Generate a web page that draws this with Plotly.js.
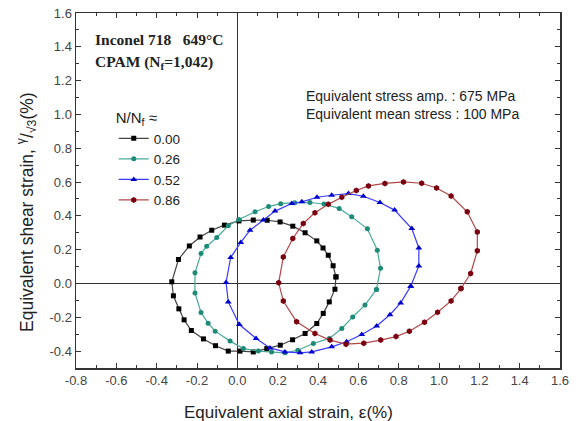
<!DOCTYPE html>
<html>
<head>
<meta charset="utf-8">
<script src="https://cdn.plot.ly/plotly-3.0.1.min.js"></script>
<style>
  html, body { margin: 0; padding: 0; background: #fff; }
  #chart { width: 579px; height: 421px; }
</style>
</head>
<body>
<div id="chart"></div>
<script>
// Hysteresis loops: equivalent axial strain (%) vs equivalent shear strain (%)
const labels = ['0.00', '0.26', '0.52', '0.86'];

const axial000 = [0.489, 0.475, 0.451, 0.425, 0.394, 0.336, 0.275, 0.212, 0.148, 0.079, 0.008, -0.064, -0.127, -0.185, -0.238, -0.292, -0.325, -0.317, -0.290, -0.264, -0.228, -0.168, -0.108, -0.045, 0.013, 0.079, 0.146, 0.213, 0.274, 0.336, 0.394, 0.426, 0.456, 0.484, 0.489];
const shear000 = [0.039, 0.105, 0.167, 0.210, 0.252, 0.300, 0.339, 0.364, 0.374, 0.375, 0.370, 0.345, 0.315, 0.275, 0.222, 0.142, 0.010, -0.073, -0.150, -0.215, -0.278, -0.328, -0.368, -0.400, -0.400, -0.405, -0.385, -0.365, -0.333, -0.296, -0.237, -0.177, -0.109, -0.034, 0.039];

const axial026 = [0.690, 0.710, 0.694, 0.645, 0.567, 0.505, 0.430, 0.360, 0.285, 0.215, 0.155, 0.088, 0.008, -0.045, -0.102, -0.152, -0.180, -0.210, -0.210, -0.180, -0.145, -0.110, -0.036, 0.030, 0.104, 0.170, 0.236, 0.300, 0.377, 0.456, 0.518, 0.572, 0.633, 0.690];
const shear026 = [-0.035, 0.090, 0.197, 0.323, 0.394, 0.444, 0.470, 0.479, 0.478, 0.472, 0.455, 0.424, 0.378, 0.341, 0.272, 0.220, 0.177, 0.063, -0.056, -0.172, -0.235, -0.282, -0.341, -0.385, -0.400, -0.405, -0.410, -0.395, -0.355, -0.325, -0.266, -0.198, -0.128, -0.035];

const axial052 = [0.860, 0.900, 0.900, 0.865, 0.780, 0.707, 0.625, 0.551, 0.468, 0.395, 0.320, 0.270, 0.187, 0.129, 0.063, 0.017, -0.033, -0.056, -0.045, 0.010, 0.093, 0.162, 0.236, 0.311, 0.369, 0.468, 0.542, 0.617, 0.691, 0.757, 0.810, 0.860];
const shear052 = [-0.016, 0.104, 0.210, 0.325, 0.434, 0.479, 0.516, 0.532, 0.522, 0.510, 0.483, 0.473, 0.428, 0.375, 0.315, 0.243, 0.154, 0.006, -0.109, -0.243, -0.325, -0.381, -0.405, -0.410, -0.405, -0.375, -0.345, -0.302, -0.251, -0.185, -0.115, -0.016];

const axial086 = [1.109, 1.157, 1.190, 1.190, 1.140, 1.060, 0.988, 0.914, 0.824, 0.732, 0.650, 0.590, 0.518, 0.451, 0.385, 0.327, 0.275, 0.228, 0.205, 0.228, 0.294, 0.385, 0.460, 0.539, 0.627, 0.711, 0.787, 0.853, 0.928, 0.993, 1.060, 1.109];
const shear086 = [-0.030, 0.059, 0.193, 0.305, 0.424, 0.517, 0.565, 0.593, 0.601, 0.592, 0.577, 0.550, 0.510, 0.468, 0.419, 0.355, 0.266, 0.157, 0.004, -0.104, -0.227, -0.296, -0.335, -0.359, -0.353, -0.335, -0.314, -0.283, -0.229, -0.170, -0.103, -0.030];

const xTickVals = [-0.8, -0.6, -0.4, -0.2, 0.0, 0.2, 0.4, 0.6, 0.8, 1.0, 1.2, 1.4, 1.6];
const xTickText = ['-0.8', '-0.6', '-0.4', '-0.2', '0.0', '0.2', '0.4', '0.6', '0.8', '1.0', '1.2', '1.4', '1.6'];
const yTickVals = [-0.4, -0.2, 0.0, 0.2, 0.4, 0.6, 0.8, 1.0, 1.2, 1.4, 1.6];
const yTickText = ['-0.4', '-0.2', '0.0', '0.2', '0.4', '0.6', '0.8', '1.0', '1.2', '1.4', '1.6'];

const sans = 'Liberation Sans, Arial, sans-serif';
const serif = 'Liberation Serif, Times New Roman, serif';

function loop(x, y, name, lineColor, markerColor, symbol, size) {
  return {
    x: x, y: y, name: name, type: 'scatter', mode: 'lines+markers',
    line: { color: lineColor, width: 1.2 },
    marker: { color: markerColor, symbol: symbol, size: size },
    cliponaxis: false
  };
}

const traces = [
  loop(axial000, shear000, labels[0], '#444444', '#000000', 'square', 5),
  loop(axial026, shear026, labels[1], '#4aa89a', '#1e8a78', 'circle', 5),
  loop(axial052, shear052, labels[2], '#3a3aff', '#0000cc', 'triangle-up', 6),
  loop(axial086, shear086, labels[3], '#b04848', '#7a0010', 'hexagon', 6)
];

const axisCommon = {
  showgrid: false,
  showline: true, linecolor: '#333', linewidth: 1.5, mirror: 'ticks',
  ticks: 'inside', ticklen: 5, tickwidth: 1, tickcolor: '#333',
  zeroline: true, zerolinecolor: '#333', zerolinewidth: 1.5,
  tickfont: { family: sans, size: 13, color: '#444' },
  minor: { dtick: 0.1, tick0: 0, ticks: 'inside', ticklen: 3, tickcolor: '#333', showgrid: false },
  fixedrange: true
};

const layout = {
  width: 579, height: 421,
  margin: { l: 76, r: 19, t: 13, b: 53 },
  paper_bgcolor: '#fff', plot_bgcolor: '#fff',
  xaxis: Object.assign({}, axisCommon, {
    range: [-0.8, 1.6], tickmode: 'array', tickvals: xTickVals, ticktext: xTickText
  }),
  yaxis: Object.assign({}, axisCommon, {
    range: [-0.5, 1.6], tickmode: 'array', tickvals: yTickVals, ticktext: yTickText
  }),
  showlegend: true,
  legend: {
    x: 0.078, y: 0.745, xanchor: 'left', yanchor: 'top',
    bgcolor: 'rgba(0,0,0,0)', borderwidth: 0,
    font: { family: sans, size: 13.5, color: '#222' },
    title: { text: 'N/N<sub>f</sub> ≈', font: { family: sans, size: 15, color: '#222' } },
    tracegroupgap: 0, itemwidth: 30
  },
  annotations: [
    { xref: 'paper', yref: 'paper', x: 0.035, y: 0.925, xanchor: 'left', yanchor: 'middle', showarrow: false,
      text: '<b>Inconel 718   649°C</b>', font: { family: serif, size: 15.5, color: '#222' } },
    { xref: 'paper', yref: 'paper', x: 0.035, y: 0.86, xanchor: 'left', yanchor: 'middle', showarrow: false,
      text: '<b>CPAM (N<sub>f</sub>=1,042)</b>', font: { family: serif, size: 15.5, color: '#222' } },
    { xref: 'paper', yref: 'paper', x: 0.472, y: 0.767, xanchor: 'left', yanchor: 'middle', showarrow: false,
      text: 'Equivalent stress amp. : 675 MPa', font: { family: sans, size: 14, color: '#222' } },
    { xref: 'paper', yref: 'paper', x: 0.472, y: 0.716, xanchor: 'left', yanchor: 'middle', showarrow: false,
      text: 'Equivalent mean stress : 100 MPa', font: { family: sans, size: 14, color: '#222' } },
    { xref: 'paper', yref: 'paper', x: 0.44, y: -0.125, xanchor: 'center', yanchor: 'middle', showarrow: false,
      text: 'Equivalent axial strain, ε(%)', font: { family: sans, size: 17, color: '#222' } },
    { xref: 'paper', yref: 'paper', x: -0.101, y: 0.44, xanchor: 'center', yanchor: 'middle', showarrow: false,
      textangle: -90,
      text: 'Equivalent shear strain, <sup>γ</sup>/<sub>√3</sub>(%)', font: { family: sans, size: 17.5, color: '#222' } }
  ]
};

Plotly.newPlot('chart', traces, layout, { staticPlot: true, displayModeBar: false });
</script>
</body>
</html>
